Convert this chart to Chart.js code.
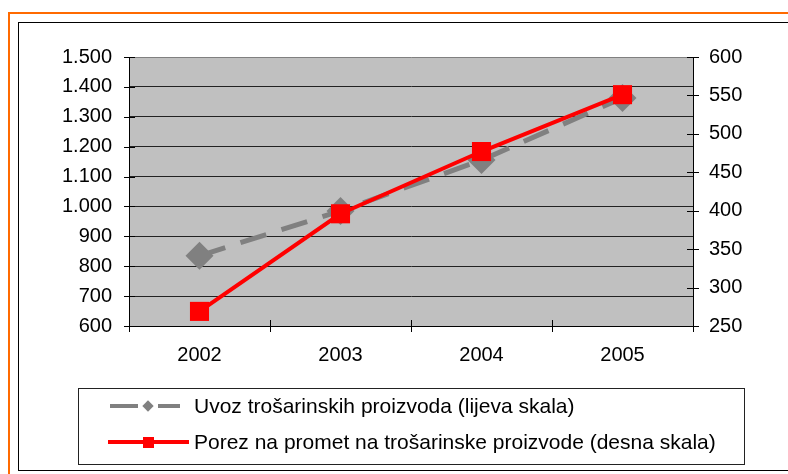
<!DOCTYPE html>
<html>
<head>
<meta charset="utf-8">
<script src="https://cdn.jsdelivr.net/npm/chart.js@4.4.0/dist/chart.umd.min.js"></script>
<style>
  html, body { margin: 0; padding: 0; background: #fff; width: 788px; height: 474px; overflow: hidden;
    font-family: 'Liberation Sans', Arial, sans-serif; }
  .orange { position: absolute; left: 8px; top: 12px; width: 800px; height: 480px;
    border-left: 2px solid #ff6a00; border-top: 2px solid #ff6a00; }
  .frame { position: absolute; left: 18px; top: 22px; width: 800px; height: 447px;
    border: 1px solid #000; border-right: none; }
  #wrap { position: absolute; left: 0; top: 0; width: 788px; height: 474px; }
  .legend { position: absolute; left: 78px; top: 388px; width: 665px; height: 75px; border: 1px solid #222; }
  .seg { position: absolute; height: 4px; }
  .txt { position: absolute; left: 194px; font-size: 21px; line-height: 24px; color: #000; white-space: nowrap; }
</style>
</head>
<body>
<div class="orange"></div>
<div class="frame"></div>
<div id="wrap"><canvas id="chart"></canvas></div>

<div class="legend"></div>
<!-- legend row 1: grey dashed line with diamond -->
<div class="seg" style="left:110px; top:404px; width:28px; background:#808080;"></div>
<div style="position:absolute; left:144px; top:402px; width:8px; height:8px; background:#808080; transform:rotate(45deg);"></div>
<div class="seg" style="left:158px; top:404px; width:22px; background:#808080;"></div>
<div class="txt" style="top:394px;">Uvoz trošarinskih proizvoda (lijeva skala)</div>
<!-- legend row 2: red line with square -->
<div class="seg" style="left:108px; top:440px; width:81px; background:#ff0000;"></div>
<div style="position:absolute; left:143px; top:437px; width:11px; height:11px; background:#ff0000;"></div>
<div class="txt" style="top:430px;">Porez na promet na trošarinske proizvode (desna skala)</div>

<script>
// data
const categories = ['2002', '2003', '2004', '2005'];
const uvoz = [835, 985, 1155, 1363];     // left scale
const porez = [269, 396, 477, 551];      // right scale
const leftTicks = ['600', '700', '800', '900', '1.000', '1.100', '1.200', '1.300', '1.400', '1.500'];
const rightTicks = ['250', '300', '350', '400', '450', '500', '550', '600'];

// grey plot area
const plotBg = {
    id: 'plotBg',
    beforeDraw(chart) {
        const a = chart.chartArea;
        const ctx = chart.ctx;
        ctx.save();
        ctx.fillStyle = '#c0c0c0';
        ctx.fillRect(a.left, a.top, a.right - a.left, a.bottom - a.top);
        ctx.restore();
    }
};

// tick marks that cross the axis lines
const crossTicks = {
    id: 'crossTicks',
    afterDraw(chart) {
        const ctx = chart.ctx;
        const sy = chart.scales.y, sy1 = chart.scales.y1, sx = chart.scales.x;
        ctx.save();
        ctx.strokeStyle = '#000';
        ctx.lineWidth = 1;
        ctx.beginPath();
        sy.ticks.forEach((t, i) => {
            const p = Math.round(sy.getPixelForTick(i)) + 0.5;
            ctx.moveTo(sy.right - 5, p); ctx.lineTo(sy.right + 6, p);
        });
        sy1.ticks.forEach((t, i) => {
            const p = Math.round(sy1.getPixelForTick(i)) + 0.5;
            ctx.moveTo(sy1.left - 6, p); ctx.lineTo(sy1.left + 6, p);
        });
        for (let i = 0; i <= categories.length; i++) {
            const p = Math.round(sx.getPixelForValue(i - 0.5)) + 0.5;
            ctx.moveTo(p, sx.top - 6); ctx.lineTo(p, sx.top + 6);
        }
        ctx.stroke();
        ctx.restore();
    }
};

new Chart(document.getElementById('chart'), {
    type: 'line',
    data: {
        labels: categories,
        datasets: [{
            label: 'Uvoz trošarinskih proizvoda (lijeva skala)',
            data: uvoz,
            yAxisID: 'y',
            borderColor: '#808080',
            borderWidth: 5,
            borderDash: [27, 16],
            pointStyle: 'rectRot',
            pointRadius: 14,
            pointBackgroundColor: '#808080',
            pointBorderWidth: 0,
            tension: 0,
            clip: false,
            order: 2
        }, {
            label: 'Porez na promet na trošarinske proizvode (desna skala)',
            data: porez,
            yAxisID: 'y1',
            borderColor: '#ff0000',
            borderWidth: 4,
            pointStyle: 'rect',
            pointRadius: 13.5,
            pointBackgroundColor: '#ff0000',
            pointBorderWidth: 0,
            tension: 0,
            clip: false,
            order: 1
        }]
    },
    options: {
        responsive: true,
        maintainAspectRatio: false,
        animation: false,
        layout: { padding: { top: 57, left: 0, right: 0, bottom: 0 } },
        plugins: { legend: { display: false }, tooltip: { enabled: false } },
        scales: {
            x: {
                offset: true,
                grid: { display: false, drawTicks: false },
                border: { color: '#000' },
                ticks: { color: '#000', font: { family: "'Liberation Sans', Arial", size: 20 }, padding: 17 },
                afterFit(s) { s.height = 148; }
            },
            y: {
                position: 'left',
                min: 600, max: 1500,
                ticks: {
                    stepSize: 100,
                    color: '#000',
                    font: { family: "'Liberation Sans', Arial", size: 20 },
                    padding: 17,
                    callback: (v, i) => leftTicks[i]
                },
                grid: {
                    drawTicks: false,
                    color: (c) => c.index === leftTicks.length - 1 ? '#808080' : '#222'
                },
                border: { color: '#000' },
                afterFit(s) { s.width = 129; }
            },
            y1: {
                position: 'right',
                min: 250, max: 600,
                ticks: {
                    stepSize: 50,
                    color: '#000',
                    font: { family: "'Liberation Sans', Arial", size: 20 },
                    padding: 16,
                    callback: (v, i) => rightTicks[i]
                },
                grid: { drawOnChartArea: false, drawTicks: false },
                border: { color: '#000' },
                afterFit(s) { s.width = 95; }
            }
        }
    },
    plugins: [plotBg, crossTicks]
});
</script>
</body>
</html>
